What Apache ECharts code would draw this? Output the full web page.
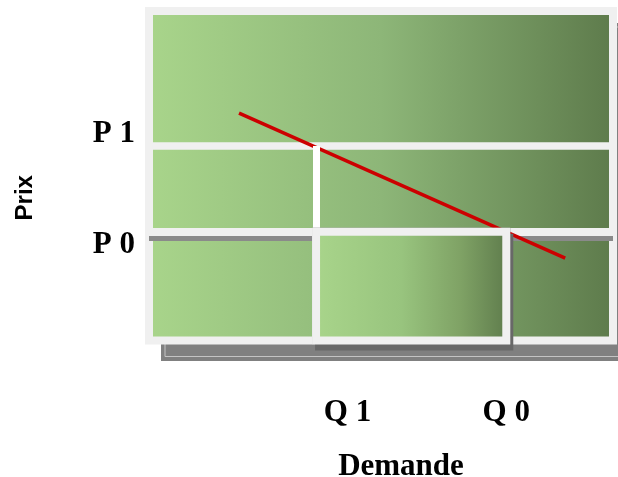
<!DOCTYPE html>
<html>
<head>
<meta charset="utf-8">
<script src="https://cdn.jsdelivr.net/npm/echarts@6/dist/echarts.min.js"></script>
<style>
  html, body { margin: 0; padding: 0; background: #ffffff; }
  #chart { width: 618px; height: 477px; }
</style>
</head>
<body>
<div id="chart"></div>
<script>
// Quantities (horizontal) and prices (vertical) on a 0–10 schematic scale
const qLabels = ['Q 1', 'Q 0'];
const qValues = [3.6, 7.7];
const pLabels = ['P 1', 'P 0'];
const pValues = [5.9, 3.3];

// Demand curve end points
const demandX = [1.94, 8.97];
const demandY = [6.9, 2.5];

const Q1 = qValues[0], Q0 = qValues[1];
const P1 = pValues[0], P0 = pValues[1];

const serif = '"Liberation Serif", "Times New Roman", serif';

const greenFade = (stops) => ({
  type: 'linear', x: 0, y: 0, x2: 1, y2: 0,
  colorStops: stops.map(([offset, color]) => ({ offset, color }))
});

const hiddenAxis = (gridIndex) => ({ type: 'value', gridIndex, show: false, min: 0, max: 1 });

const chart = echarts.init(document.getElementById('chart'), null, { renderer: 'canvas' });

chart.setOption({
  animation: false,
  grid: [
    {
      // main plotting panel
      show: true, z: 1, outerBoundsMode: 'none', containLabel: false,
      left: 149, top: 11, right: 5, bottom: 136.5,
      backgroundColor: greenFade([[0, '#a9d58b'], [0.5, '#8db678'], [1, '#5d7a4b']]),
      borderColor: '#f0f0f0',
      borderWidth: 8
    },
    {
      // drop shadow behind the panel
      show: true, z: -2, outerBoundsMode: 'none',
      left: 161, top: 23, width: 472, height: 338,
      backgroundColor: '#808080',
      borderWidth: 0
    },
    {
      // thin light rule inside the drop shadow
      show: true, z: -1, outerBoundsMode: 'none',
      left: 165, top: 27, width: 470, height: 329.5,
      backgroundColor: 'transparent',
      borderColor: '#c4c4c4',
      borderWidth: 1
    }
  ],
  xAxis: [
    {
      type: 'value', min: 0, max: 10, gridIndex: 0,
      axisLine: { show: false }, axisTick: { show: false }, splitLine: { show: false },
      axisLabel: {
        customValues: qValues,
        margin: 57,
        formatter: (v) => {
          const i = qValues.indexOf(v);
          return i === 0 ? '{q1|' + qLabels[i] + '}' : '{q|' + qLabels[i] + '}';
        },
        rich: {
          q1: { fontFamily: serif, fontWeight: 'bold', fontSize: 31, color: '#000', padding: [0, 0, 0, 63] },
          q:  { fontFamily: serif, fontWeight: 'bold', fontSize: 31, color: '#000' }
        }
      },
      name: 'Demande',
      nameLocation: 'middle',
      nameGap: 111,
      nameTextStyle: { fontFamily: serif, fontWeight: 'bold', fontSize: 31, color: '#000', padding: [0, 0, 0, 40] }
    },
    hiddenAxis(1),
    hiddenAxis(2)
  ],
  yAxis: [
    {
      type: 'value', min: 0, max: 10, gridIndex: 0,
      axisLine: { show: false }, axisTick: { show: false }, splitLine: { show: false },
      axisLabel: {
        customValues: pValues,
        margin: 14,
        formatter: (v) => {
          const i = pValues.indexOf(v);
          return i === 0 ? '{p1|' + pLabels[i] + '}' : '{p0|' + pLabels[i] + '}';
        },
        rich: {
          p1: { fontFamily: serif, fontWeight: 'bold', fontSize: 31, color: '#000', padding: [0, 0, 24, 0] },
          p0: { fontFamily: serif, fontWeight: 'bold', fontSize: 31, color: '#000', padding: [27, 0, 0, 0] }
        }
      },
      name: 'Prix',
      nameLocation: 'middle',
      nameGap: 112,
      nameTextStyle: { fontFamily: '"Liberation Sans", Arial, sans-serif', fontWeight: 'bold', fontSize: 24, color: '#000', padding: [0, 44, 0, 0] }
    },
    hiddenAxis(1),
    hiddenAxis(2)
  ],
  series: [
    {
      // price levels P1 and P0
      name: 'niveaux', type: 'line', data: [], silent: true,
      markLine: {
        z: 2, silent: true, symbol: 'none', label: { show: false },
        data: [
          { yAxis: P1, lineStyle: { color: '#f0f0f0', width: 7.5, type: 'solid' } },
          { yAxis: P0, lineStyle: { color: '#f0f0f0', width: 8, type: 'solid',
            shadowColor: '#8a8a8a', shadowBlur: 0, shadowOffsetY: 5 } }
        ]
      }
    },
    {
      name: 'Demande', type: 'line', z: 3, silent: true,
      symbol: 'none',
      lineStyle: { color: '#cc0000', width: 3.5 },
      data: demandX.map((x, i) => [x, demandY[i]])
    },
    {
      // quantity Q1 drop line
      name: 'Q1', type: 'line', data: [], silent: true,
      markLine: {
        z: 4, silent: true, symbol: 'none', label: { show: false },
        lineStyle: { color: '#ffffff', width: 7, type: 'solid' },
        data: [[{ coord: [Q1, 0] }, { coord: [Q1, P1] }]]
      }
    },
    {
      // shadow cast by the Q1–Q0 box
      name: 'ombre', type: 'line', data: [], silent: true,
      markArea: {
        z: 5, silent: true, label: { show: false },
        itemStyle: {
          color: '#686868', borderColor: '#686868', borderWidth: 8,
          shadowColor: '#686868', shadowBlur: 0, shadowOffsetX: 3, shadowOffsetY: 6
        },
        data: [[{ coord: [Q1, 0] }, { coord: [Q0, P0] }]]
      }
    },
    {
      // box between Q1 and Q0 under P0
      name: 'zone', type: 'line', data: [], silent: true,
      markArea: {
        z: 6, silent: true, label: { show: false },
        itemStyle: {
          color: greenFade([[0, '#a9d58b'], [0.45, '#98c47e'], [0.75, '#7fa265'], [1, '#5d7a4b']]),
          borderColor: '#f0f0f0',
          borderWidth: 8
        },
        data: [[{ coord: [Q1, 0] }, { coord: [Q0, P0] }]]
      }
    }
  ]
});
</script>
</body>
</html>
